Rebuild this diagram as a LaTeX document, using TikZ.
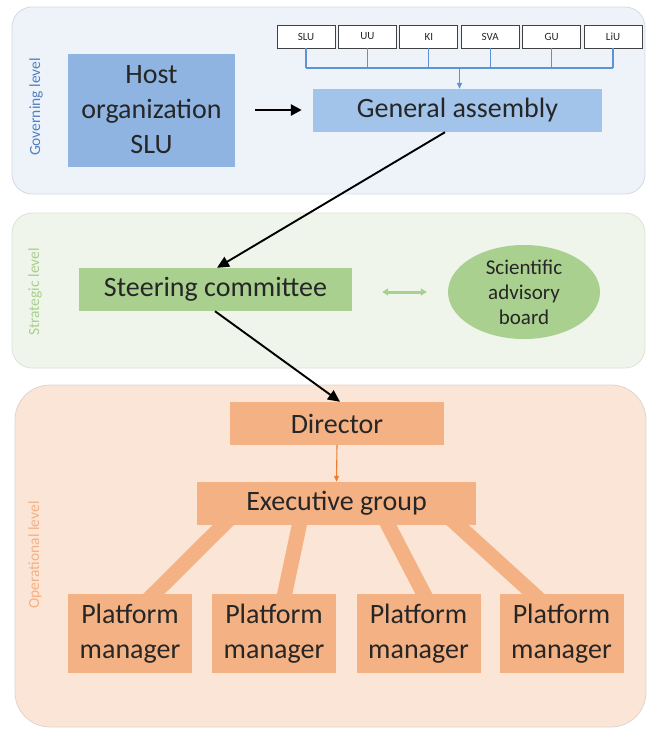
\documentclass[tikz,border=0pt]{standalone}
\usepackage{fontspec}
\setmainfont{Carlito}
\usetikzlibrary{arrows.meta,shapes.geometric}
\definecolor{govfill}{HTML}{EEF3FA}
\definecolor{govborder}{HTML}{D3DAE3}
\definecolor{hostblue}{HTML}{8FB4E1}
\definecolor{gablue}{HTML}{A2C4EA}
\definecolor{bracketblue}{HTML}{5B93D5}
\definecolor{govtext}{HTML}{4F81C6}
\definecolor{strfill}{HTML}{EFF5EA}
\definecolor{strborder}{HTML}{DCE3D6}
\definecolor{greenbox}{HTML}{A9D08E}
\definecolor{strtext}{HTML}{A9CF8E}
\definecolor{opfill}{HTML}{FBE5D6}
\definecolor{opborder}{HTML}{DDD5CF}
\definecolor{orangebox}{HTML}{F4B183}
\definecolor{orangearrow}{HTML}{ED7D31}
\definecolor{optext}{HTML}{F4B183}
\definecolor{txt}{HTML}{262626}
\pgfdeclarelayer{panels}
\pgfdeclarelayer{conn}
\pgfsetlayers{panels,conn,main}
\begin{document}
\begin{tikzpicture}[x=1pt,y=-1pt,
  panel/.style={rounded corners=#1, line width=0.8pt},
  bigtext/.style={font=\fontsize{28}{35}\selectfont, text=txt, align=center, inner sep=0pt},
  rectbox/.style={bigtext, draw=none, minimum width=#1},
  smallbox/.style={draw=black!75, fill=white, line width=0.7pt, minimum width=58pt, minimum height=23pt, inner sep=0pt, font=\fontsize{11}{13}\selectfont, text=txt},
  levellabel/.style={rotate=90, font=\fontsize{15.5}{18}\selectfont, inner sep=0pt},
  blackarrow/.style={draw=black, line width=1.9pt, -{Triangle[length=12pt,width=11pt]}},
  fatlink/.style={draw=orangebox, line width=15pt, line cap=butt},
]
\useasboundingbox (0,0) rectangle (648,729);

% panels
\begin{pgfonlayer}{panels}
\draw[panel=20pt, fill=govfill, draw=govborder] (12,7) rectangle (645,194);
\draw[panel=20pt, fill=strfill, draw=strborder] (12,213) rectangle (645,368);
\draw[panel=35pt, fill=opfill, draw=opborder] (15,385) rectangle (646,727);
\end{pgfonlayer}

% level labels
\node[levellabel, text=govtext] (lgov) at (36,107) {Governing level};
\node[levellabel, text=strtext] (lstr) at (35,292) {Strategic level};
\node[levellabel, text=optext] (lop) at (35,555) {Operational level};

% governing level
\node[rectbox=167pt, minimum height=113pt, fill=hostblue] (host) at (151.5,110) {Host\\organization\\SLU};
\node[rectbox=289pt, minimum height=43pt, fill=gablue] (ga) at (457.5,110.5) {General assembly};
\foreach \n/\t [count=\i from 0] in {u1/SLU,u2/UU,u3/KI,u4/SVA,u5/GU,u6/LiU}{
  \node[smallbox] (\n) at (306+61.4*\i,36.5) {\t};
}
\coordinate (bar) at (459.5,68);
\foreach \n in {u1,u2,u3,u4,u5,u6}{
  \draw[bracketblue, line width=1.1pt] (\n.south) -- (\n.south |- bar);
}
\draw[bracketblue, line width=1.1pt] (u1.south |- bar) -- (u6.south |- bar);
\draw[bracketblue, line width=1.1pt, -{Triangle[length=6pt,width=5pt]}] (bar) -- (bar |- ga.north);
\draw[line width=2.6pt, -{Triangle[length=11pt,width=11pt]}, shorten <=20pt, shorten >=11pt] (host.east) -- (host.east -| ga.west);

% strategic level
\node[rectbox=273pt, minimum height=43pt, fill=greenbox] (steer) at (215.5,289.5) {Steering committee};
\node[ellipse, fill=greenbox, minimum width=152pt, minimum height=94pt, inner sep=0pt, align=center, text=txt, font=\fontsize{21}{25}\selectfont] (sab) at (524,292) {Scientific\\advisory\\board};
\draw[greenbox, line width=3pt, {Triangle[length=6pt,width=7pt]}-{Triangle[length=6pt,width=7pt]}, shorten <=30pt, shorten >=21pt] (steer.east |- sab.west) -- (sab.west);

\draw[blackarrow] ([xshift=-12.5pt]ga.south) -- ([xshift=1.5pt]steer.north);

% operational level
\node[rectbox=214pt, minimum height=43pt, fill=orangebox] (dir) at (337,423.5) {Director};
\node[rectbox=279pt, minimum height=43pt, fill=orangebox] (exec) at (336.5,503.5) {Executive group};
\foreach \n/\x in {pm1/130,pm2/274,pm3/418.5,pm4/561.5}{
  \node[rectbox=124pt, minimum height=79pt, fill=orangebox] (\n) at (\x,633.5) {Platform\\manager};
}
\draw[blackarrow] ([xshift=-0.5pt]steer.south) -- ([xshift=3pt]dir.north);
\draw[orangearrow, line width=1.1pt, -{Triangle[length=6pt,width=5pt]}] (dir.south) -- (exec.north);

\begin{pgfonlayer}{conn}
\draw[fatlink] ([xshift=-105.5pt,yshift=8pt]exec.south) -- ([xshift=16pt,yshift=-8pt]pm1.north);
\draw[fatlink] ([xshift=-35.5pt,yshift=8pt]exec.south) -- ([xshift=9pt,yshift=-8pt]pm2.north);
\draw[fatlink] ([xshift=47.5pt,yshift=8pt]exec.south) -- ([xshift=9.5pt,yshift=-8pt]pm3.north);
\draw[fatlink] ([xshift=112.5pt,yshift=8pt]exec.south) -- ([xshift=-19.5pt,yshift=-8pt]pm4.north);
\end{pgfonlayer}
\end{tikzpicture}
\end{document}
